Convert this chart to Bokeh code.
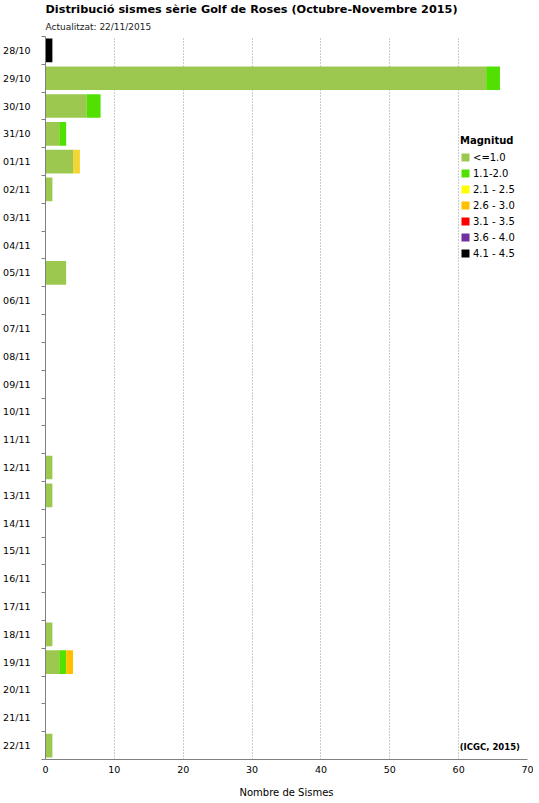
from bokeh.plotting import figure
from bokeh.models import (ColumnDataSource, FixedTicker, Legend, LegendItem, Label, Title, Range1d)
from bokeh.embed import file_html
from bokeh.resources import INLINE

dates = ["28/10", "29/10", "30/10", "31/10", "01/11", "02/11", "03/11", "04/11", "05/11",
         "06/11", "07/11", "08/11", "09/11", "10/11", "11/11", "12/11", "13/11", "14/11",
         "15/11", "16/11", "17/11", "18/11", "19/11", "20/11", "21/11", "22/11"]

m_le_10 = [0, 64, 6, 2, 4, 1, 0, 0, 3, 0, 0, 0, 0, 0, 0, 1, 1, 0, 0, 0, 0, 1, 2, 0, 0, 1]
m_11_20 = [0, 2, 2, 1, 0, 0, 0, 0, 0, 0, 0, 0, 0, 0, 0, 0, 0, 0, 0, 0, 0, 0, 1, 0, 0, 0]
m_21_25 = [0, 0, 0, 0, 1, 0, 0, 0, 0, 0, 0, 0, 0, 0, 0, 0, 0, 0, 0, 0, 0, 0, 0, 0, 0, 0]
m_26_30 = [0, 0, 0, 0, 0, 0, 0, 0, 0, 0, 0, 0, 0, 0, 0, 0, 0, 0, 0, 0, 0, 0, 1, 0, 0, 0]
m_31_35 = [0] * 26
m_36_40 = [0] * 26
m_41_45 = [1, 0, 0, 0, 0, 0, 0, 0, 0, 0, 0, 0, 0, 0, 0, 0, 0, 0, 0, 0, 0, 0, 0, 0, 0, 0]

series_keys = ["le10", "m11_20", "m21_25", "m26_30", "m31_35", "m36_40", "m41_45"]
series_labels = ["<=1.0", "1.1-2.0", "2.1 - 2.5", "2.6 - 3.0", "3.1 - 3.5", "3.6 - 4.0", "4.1 - 4.5"]
bar_colors = ["#9DC850", "#52E000", "#F3D634", "#FFC000", "#FF0000", "#7030A0", "#000000"]
legend_colors = ["#9DC850", "#52E000", "#FFFF00", "#FFC000", "#FF0000", "#7030A0", "#000000"]

x_ticks = [0, 10, 20, 30, 40, 50, 60, 70]

n = len(dates)
ypos = [n - 1 - i for i in range(n)]
zeros = [0] * n

source = ColumnDataSource(dict(y=ypos, zero=zeros, le10=m_le_10, m11_20=m_11_20, m21_25=m_21_25,
                               m26_30=m_26_30, m31_35=m_31_35, m36_40=m_36_40, m41_45=m_41_45))

FONT = "DejaVu Sans"

p = figure(frame_width=482, frame_height=723,
           x_range=Range1d(0, 70), y_range=Range1d(-0.5, n - 0.5),
           output_backend="svg", toolbar_location=None,
           min_border_left=37, min_border_right=6, min_border_top=32, min_border_bottom=30)
p.background_fill_color = "white"
p.outline_line_color = None

p.title.text = "Distribució sismes sèrie Golf de Roses (Octubre-Novembre 2015)"
p.title.text_font = FONT
p.title.text_font_size = "11.25px"
p.title.text_font_style = "bold"
p.title.align = "left"
p.title.standoff = 0
p.title.text_color = "#000000"

sub = Title(text="Actualitzat: 22/11/2015", text_font=FONT, text_font_size="9px",
            text_font_style="normal", align="left", standoff=9, text_color="#222222")
p.add_layout(sub, "above")

p.hbar_stack(series_keys, y="y", height=0.85, fill_color=bar_colors, line_color=None, source=source)

# axes
ya = p.yaxis[0]
ya.ticker = FixedTicker(ticks=ypos, minor_ticks=[v - 0.5 for v in range(n + 1)])
ya.major_label_overrides = {ypos[i]: dates[i] for i in range(n)}
ya.major_tick_out = 0
ya.major_tick_in = 0
ya.minor_tick_out = 4
ya.minor_tick_in = 0
ya.minor_tick_line_color = "#808080"
ya.axis_line_color = "#808080"
ya.major_label_standoff = 11
ya.major_label_text_font = FONT
ya.major_label_text_font_size = "9.5px"
ya.major_label_text_color = "#000000"

xa = p.xaxis[0]
xa.ticker = FixedTicker(ticks=x_ticks)
xa.major_tick_out = 0
xa.major_tick_in = 0
xa.axis_line_color = "#808080"
xa.major_label_standoff = 6
xa.major_label_text_font = FONT
xa.major_label_text_font_size = "9.5px"
xa.major_label_text_color = "#000000"
xa.axis_label = "Nombre de Sismes"
xa.axis_label_text_font = FONT
xa.axis_label_text_font_size = "10px"
xa.axis_label_text_font_style = "normal"
xa.axis_label_standoff = 11
xa.axis_label_text_color = "#000000"

p.xgrid.grid_line_color = "#999999"
p.xgrid.grid_line_dash = "1 2"
p.ygrid.visible = False

# legend with its own swatches (zero-width bars that draw nothing in the plot)
items = []
for lab, col in zip(series_labels, legend_colors):
    r = p.hbar(y="y", left="zero", right="zero", height=0.85, fill_color=col, line_color=None,
               source=source)
    items.append(LegendItem(label=lab, renderers=[r]))

legend = Legend(items=items, location=(415, 500), title="Magnitud",
                title_text_font=FONT, title_text_font_style="bold", title_text_font_size="10px",
                title_text_color="#000000",
                label_text_font=FONT, label_text_font_size="10px", label_text_color="#000000",
                glyph_width=10, glyph_height=10, label_height=12, spacing=4,
                padding=0, margin=0, border_line_color=None, background_fill_alpha=0,
                label_standoff=3, title_standoff=5)
p.add_layout(legend)

credit = Label(x=68.9, y=-0.05, text="(ICGC, 2015)", text_align="right", text_baseline="middle",
               text_font=FONT, text_font_size="8.5px", text_font_style="bold", text_color="#000000")
p.add_layout(credit)

open("out.html", "w").write(file_html(p, INLINE))
